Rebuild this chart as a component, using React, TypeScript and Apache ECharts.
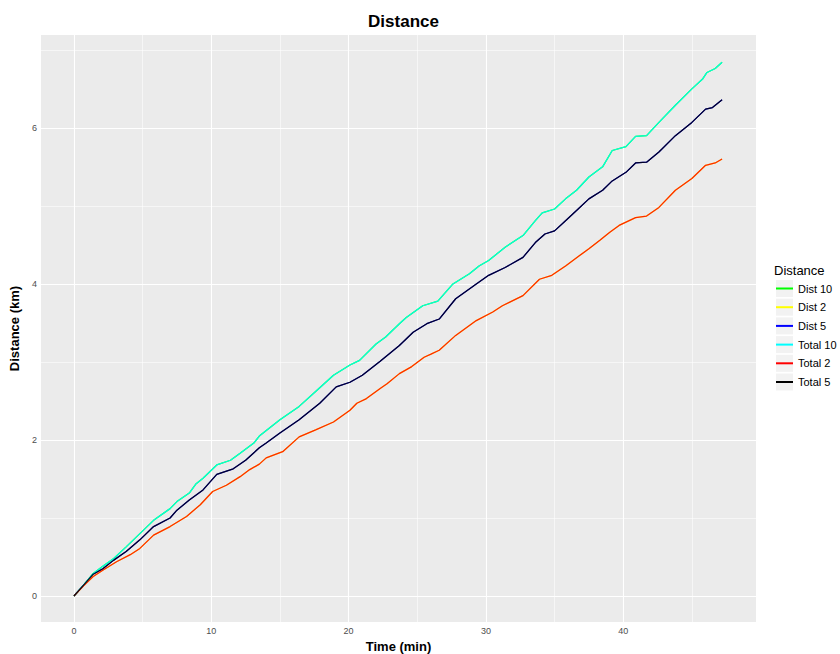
import React, { useEffect, useRef } from "react";
import * as echarts from "echarts";

const seriesNames = ["Dist 10", "Dist 2", "Dist 5", "Total 10", "Total 2", "Total 5"];
const seriesColors = ["#00ff00", "#ffff00", "#0000ff", "#00ffff", "#ff0000", "#000000"];

const xTicks = [0, 10, 20, 30, 40];
const xMinor = [5, 15, 25, 35, 45];
const yTicks = [0, 2, 4, 6];
const yMinor = [1, 3, 5, 7];

const total10: [number, number][] = [
  [0, 0], [0.7, 0.14], [1.4, 0.29], [2.1, 0.38], [2.9, 0.48], [3.8, 0.63], [4.8, 0.8], [5.8, 0.97],
  [7.0, 1.12], [7.5, 1.21], [8.4, 1.32], [8.9, 1.44], [9.4, 1.51], [10.4, 1.68], [11.4, 1.74],
  [12.1, 1.83], [13.1, 1.96], [13.5, 2.05], [15.0, 2.26], [16.4, 2.43], [17.6, 2.62], [18.9, 2.83],
  [20.1, 2.96], [20.8, 3.02], [22.0, 3.23], [22.7, 3.32], [23.7, 3.49], [24.2, 3.57], [25.4, 3.72],
  [26.5, 3.78], [27.6, 4.0], [28.8, 4.13], [29.5, 4.23], [30.2, 4.3], [31.4, 4.47], [32.7, 4.62],
  [33.6, 4.81], [34.1, 4.91], [35.0, 4.96], [35.8, 5.09], [36.6, 5.2], [37.5, 5.37], [38.5, 5.5],
  [39.2, 5.71], [40.2, 5.76], [40.9, 5.89], [41.7, 5.9], [42.6, 6.07], [43.8, 6.29], [45.0, 6.5],
  [45.8, 6.63], [46.1, 6.71], [46.7, 6.76], [47.2, 6.84],
];

const total5: [number, number][] = [
  [0, 0], [0.7, 0.14], [1.4, 0.28], [2.1, 0.35], [2.9, 0.46], [3.8, 0.57], [4.8, 0.72], [5.8, 0.89],
  [7.0, 1.0], [7.5, 1.1], [8.4, 1.23], [9.4, 1.36], [10.4, 1.56], [11.6, 1.63], [12.5, 1.74],
  [13.5, 1.9], [14.0, 1.96], [15.0, 2.09], [16.4, 2.26], [17.9, 2.47], [19.1, 2.68], [20.1, 2.74],
  [21.0, 2.83], [22.3, 3.01], [23.7, 3.21], [24.7, 3.38], [25.7, 3.49], [26.6, 3.55], [27.8, 3.81],
  [29.3, 4.0], [30.2, 4.11], [31.4, 4.21], [32.7, 4.34], [33.6, 4.53], [34.3, 4.64], [35.0, 4.68],
  [35.8, 4.81], [36.6, 4.94], [37.5, 5.09], [38.5, 5.2], [39.2, 5.32], [40.2, 5.43], [40.9, 5.55],
  [41.7, 5.56], [42.6, 5.69], [43.8, 5.9], [45.0, 6.07], [46.0, 6.24], [46.5, 6.26], [47.2, 6.36],
];

const total2: [number, number][] = [
  [0, 0], [0.7, 0.13], [1.4, 0.25], [2.1, 0.33], [3.1, 0.44], [4.1, 0.53], [4.8, 0.61], [5.8, 0.78],
  [7.0, 0.89], [8.2, 1.02], [9.2, 1.17], [10.1, 1.34], [11.1, 1.42], [12.1, 1.53], [12.8, 1.62],
  [13.5, 1.69], [14.0, 1.77], [15.2, 1.85], [16.4, 2.04], [17.6, 2.13], [18.9, 2.23], [20.1, 2.38],
  [20.6, 2.47], [21.3, 2.53], [22.3, 2.66], [22.8, 2.72], [23.7, 2.85], [24.6, 2.94], [25.5, 3.06],
  [26.0, 3.1], [26.6, 3.15], [27.8, 3.34], [29.3, 3.53], [30.5, 3.64], [31.2, 3.72], [32.7, 3.85],
  [33.9, 4.06], [34.8, 4.11], [35.8, 4.23], [36.8, 4.36], [37.5, 4.45], [38.3, 4.56], [39.0, 4.66],
  [39.7, 4.75], [40.9, 4.85], [41.7, 4.87], [42.6, 4.98], [43.8, 5.2], [45.0, 5.35], [46.0, 5.52],
  [46.7, 5.55], [47.2, 5.6],
];

// Dist lines coincide with the Total lines in the picture
const dist10 = total10;
const dist2 = total2;
const dist5 = total5;

const seriesData = [dist10, dist2, dist5, total10, total2, total5];

const FONT = "Liberation Sans, Arial, Helvetica, sans-serif";

export default function App() {
  const ref = useRef<HTMLDivElement>(null);
  useEffect(() => {
    if (!ref.current) return;
    const chart = echarts.init(ref.current, null, { renderer: "svg" });
    const gridLeft = 41, gridTop = 35, gridRight = 84, gridBottom = 32;
    const legendTop = 282;
    const rowStep = 18.7;

    const lineSeries = seriesNames.map((name, i) => ({
      name,
      type: "line",
      data: seriesData[i],
      showSymbol: false,
      symbol: "none",
      z: 3 + (i >= 3 ? 1 : 0),
      lineStyle: {
        color: seriesColors[i],
        width: 1.25,
        opacity: i >= 3 ? 0.85 : 1,
      },
      itemStyle: { color: seriesColors[i] },
      silent: true,
    }));

    const gridSeries = {
      name: "__grid",
      type: "line",
      data: [],
      silent: true,
      z: 1,
      markLine: {
        silent: true,
        z: 1,
        symbol: "none",
        label: { show: false },
        animation: false,
        data: [
          ...xTicks.map((v) => ({ xAxis: v, lineStyle: { color: "#ffffff", width: 1.1, type: "solid" } })),
          ...xMinor.map((v) => ({ xAxis: v, lineStyle: { color: "#ffffff", width: 0.55, type: "solid" } })),
          ...yTicks.map((v) => ({ yAxis: v, lineStyle: { color: "#ffffff", width: 1.1, type: "solid" } })),
          ...yMinor.map((v) => ({ yAxis: v, lineStyle: { color: "#ffffff", width: 0.55, type: "solid" } })),
        ],
      },
    };

    chart.setOption({
      animation: false,
      backgroundColor: "#ffffff",
      textStyle: { fontFamily: FONT },
      title: {
        text: "Distance",
        left: 398.5,
        textAlign: "center",
        top: 8,
        textStyle: { fontSize: 17, fontWeight: "bold", color: "#000000", fontFamily: FONT },
      },
      grid: {
        left: gridLeft,
        top: gridTop,
        right: gridRight,
        bottom: gridBottom,
        show: true,
        backgroundColor: "#ebebeb",
        borderWidth: 0,
        containLabel: false,
        outerBoundsMode: "none",
      },
      xAxis: {
        type: "value",
        min: -2.4,
        max: 49.67,
        name: "Time (min)",
        nameLocation: "middle",
        nameGap: 15,
        nameTextStyle: { fontSize: 13, fontWeight: "bold", color: "#000000", fontFamily: FONT },
        axisLine: { show: false },
        splitLine: { show: false },
        axisTick: { show: true, length: 3, lineStyle: { color: "#333333", width: 1 }, customValues: xTicks },
        axisLabel: { fontSize: 9, color: "#4d4d4d", margin: 4, customValues: xTicks, fontFamily: FONT },
      },
      yAxis: {
        type: "value",
        min: -0.333,
        max: 7.19,
        name: "Distance (km)",
        nameLocation: "middle",
        nameGap: 18,
        nameRotate: 90,
        nameTextStyle: { fontSize: 13, fontWeight: "bold", color: "#000000", fontFamily: FONT },
        axisLine: { show: false },
        splitLine: { show: false },
        axisTick: { show: true, length: 3, lineStyle: { color: "#333333", width: 1 }, customValues: yTicks },
        axisLabel: { fontSize: 9, color: "#4d4d4d", margin: 4, customValues: yTicks, fontFamily: FONT },
      },
      legend: {
        orient: "vertical",
        left: 776,
        top: legendTop,
        itemWidth: 17,
        itemHeight: 2,
        itemGap: rowStep - 13,
        icon: "rect",
        data: seriesNames.map((n) => ({ name: n, itemStyle: { opacity: 1 } })),
        textStyle: { fontSize: 11, color: "#000000", fontFamily: FONT, lineHeight: 13, padding: [0, 0, 0, 0] },
        padding: 0,
        itemStyle: { opacity: 1 },
        lineStyle: { opacity: 1 },
        selectedMode: false,
      },
      graphic: [
        {
          type: "text",
          left: 774,
          top: 264,
          style: { text: "Distance", fontSize: 13, fill: "#000000", fontFamily: FONT },
        },
        ...seriesNames.map((_, i) => ({
          type: "rect",
          z: -1,
          shape: { x: 776, y: legendTop + 6.5 - 8.5 + i * rowStep, width: 17, height: 17 },
          style: { fill: "#f2f2f2" },
          silent: true,
        })),
      ],
      series: [gridSeries, ...lineSeries],
    });
    return () => chart.dispose();
  }, []);
  return (
    <div
      ref={ref}
      style={{ position: "fixed", left: 0, top: 0, width: 840, height: 654 }}
    />
  );
}
